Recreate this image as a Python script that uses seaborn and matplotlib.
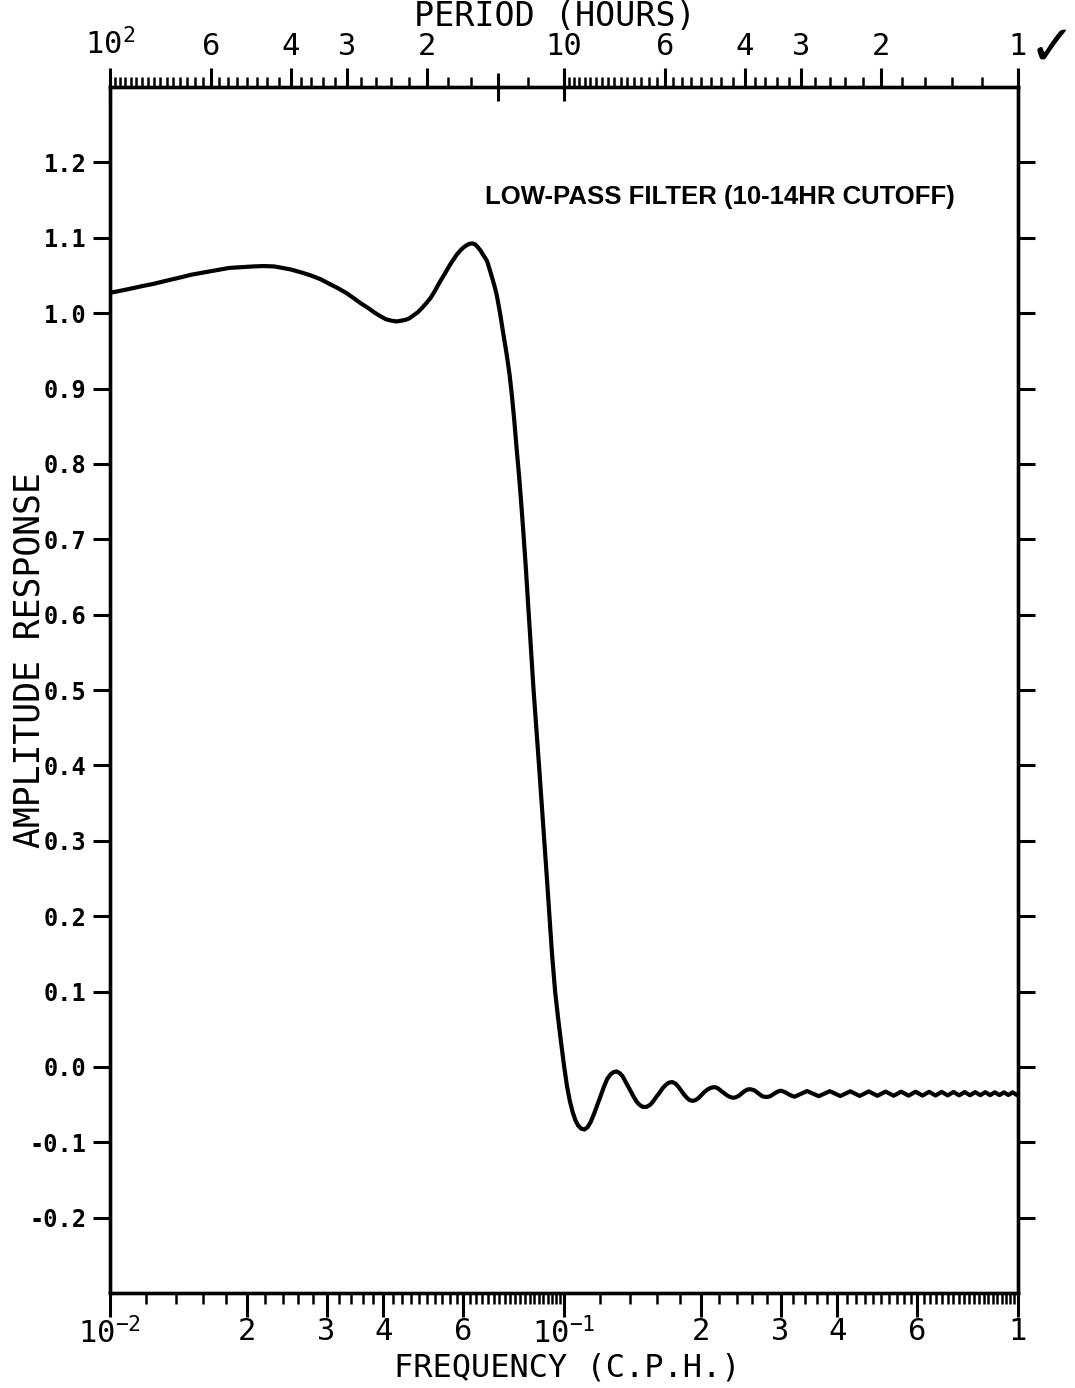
import matplotlib
matplotlib.use("Agg")
import matplotlib.pyplot as plt
import numpy as np
import pandas as pd
import seaborn as sns
from matplotlib.ticker import FixedLocator, NullFormatter

# Amplitude response of the low-pass filter, frequency in cycles per hour.
# Pass band (0.01 - 0.073 c.p.h.)
freq_pass = [
    0.0100, 0.0106, 0.0112, 0.0118, 0.0125, 0.0133, 0.0142, 0.0151, 0.0161, 0.0172,
    0.0183, 0.0195, 0.0207, 0.0218, 0.0230, 0.0240, 0.0250, 0.0264, 0.0277, 0.0291,
    0.0304, 0.0318, 0.0331, 0.0344, 0.0357, 0.0370, 0.0382, 0.0394, 0.0405, 0.0417,
    0.0428, 0.0438, 0.0447, 0.0456, 0.0466, 0.0476, 0.0487, 0.0497, 0.0508, 0.0519,
    0.0530, 0.0541, 0.0552, 0.0562, 0.0572, 0.0581, 0.0591, 0.0600, 0.0610, 0.0619,
    0.0629, 0.0638, 0.0647, 0.0655, 0.0664, 0.0671, 0.0677, 0.0686, 0.0695, 0.0703,
    0.0711, 0.0723,
]
amp_pass = [
    1.027, 1.030, 1.033, 1.036, 1.039, 1.043, 1.047, 1.051, 1.054, 1.057,
    1.060, 1.061, 1.062, 1.0625, 1.062, 1.060, 1.058, 1.054, 1.050, 1.045,
    1.039, 1.033, 1.027, 1.020, 1.013, 1.007, 1.001, 0.996, 0.992, 0.990,
    0.989, 0.990, 0.991, 0.993, 0.997, 1.001, 1.007, 1.013, 1.020, 1.029,
    1.039, 1.048, 1.057, 1.065, 1.072, 1.078, 1.083, 1.087, 1.090, 1.092,
    1.0925, 1.091, 1.087, 1.083, 1.077, 1.073, 1.069, 1.058, 1.046, 1.036,
    1.024, 1.000,
]
# Transition band (0.073 - 0.11 c.p.h.)
freq_trans = [
    0.0734, 0.0747, 0.0759, 0.0768, 0.0777, 0.0786, 0.0796, 0.0804, 0.0813, 0.0823,
    0.0834, 0.0845, 0.0857, 0.0869, 0.0881, 0.0893, 0.0905, 0.0917, 0.0929, 0.0941,
    0.0956, 0.0970, 0.0985, 0.1000, 0.1015, 0.1030, 0.1045, 0.1060, 0.1075, 0.1092,
]
amp_trans = [
    0.975, 0.947, 0.918, 0.890, 0.858, 0.822, 0.785, 0.752, 0.713, 0.667,
    0.612, 0.556, 0.500, 0.450, 0.400, 0.350, 0.300, 0.250, 0.200, 0.150,
    0.100, 0.066, 0.033, 0.002, -0.025, -0.045, -0.060, -0.071, -0.078, -0.082,
]
# Stop band ripple (0.11 - 1 c.p.h.)
freq_stop = [
    0.1109, 0.1127, 0.1145, 0.1165, 0.1185, 0.1205, 0.1225, 0.1245, 0.1265, 0.1285,
    0.1305, 0.1325, 0.1345, 0.1365, 0.1385, 0.1405, 0.1425, 0.1445, 0.1465, 0.1490,
    0.1520, 0.1550, 0.1575, 0.1600, 0.1625, 0.1650, 0.1675, 0.1700, 0.1730, 0.1760,
    0.1790, 0.1815, 0.1840, 0.1865, 0.1890, 0.1920, 0.1950, 0.1980, 0.2010, 0.2040,
    0.2070, 0.2100, 0.2130, 0.2160, 0.2190, 0.2220, 0.2255, 0.2290, 0.2325, 0.2360,
    0.2395, 0.2430, 0.2465, 0.2500, 0.2535, 0.2570, 0.2625, 0.2680, 0.2735, 0.2790,
    0.2843, 0.2895, 0.2948, 0.3000, 0.3055, 0.3110, 0.3165, 0.3220, 0.3325, 0.3430,
    0.3535, 0.3640, 0.3745, 0.3850, 0.3955, 0.4060, 0.4165, 0.4270, 0.4375, 0.4480,
    0.4585, 0.4690, 0.4795, 0.4900, 0.5005, 0.5110, 0.5215, 0.5320, 0.553, 0.574,
    0.595, 0.616, 0.637, 0.658, 0.679, 0.700, 0.721, 0.742, 0.763, 0.784,
    0.805, 0.826, 0.847, 0.868, 0.889, 0.910, 0.931, 0.952, 0.973, 0.994,
    1.000,
]
amp_stop = [
    -0.083, -0.080, -0.073, -0.062, -0.050, -0.038, -0.026, -0.016, -0.010, -0.007,
    -0.006, -0.008, -0.012, -0.019, -0.026, -0.033, -0.040, -0.046, -0.050, -0.053,
    -0.053, -0.050, -0.045, -0.039, -0.034, -0.028, -0.024, -0.021, -0.020, -0.022,
    -0.027, -0.032, -0.037, -0.041, -0.044, -0.045, -0.044, -0.041, -0.037, -0.033,
    -0.030, -0.028, -0.027, -0.027, -0.029, -0.032, -0.035, -0.038, -0.040, -0.041,
    -0.040, -0.038, -0.035, -0.032, -0.030, -0.0295, -0.031, -0.035, -0.039, -0.040,
    -0.039, -0.036, -0.033, -0.0315, -0.033, -0.0355, -0.038, -0.0395, -0.0357, -0.032,
    -0.0354, -0.0388, -0.0355, -0.0322, -0.0354, -0.0386, -0.0355, -0.0323, -0.0354, -0.0385,
    -0.0355, -0.0325, -0.0354, -0.0383, -0.0355, -0.0327, -0.0355, -0.0382, -0.0328, -0.0381,
    -0.0329, -0.0380, -0.0330, -0.0379, -0.0331, -0.0378, -0.0332, -0.0377, -0.0333, -0.0376,
    -0.0334, -0.0375, -0.0335, -0.0374, -0.0336, -0.0374, -0.0337, -0.0373, -0.0337, -0.0372,
    -0.0370,
]

# Bottom (frequency) axis ticks
freq_ticks = [0.01, 0.02, 0.03, 0.04, 0.06, 0.1, 0.2, 0.3, 0.4, 0.6, 1.0]
freq_tick_labels = [r"$\mathregular{10^{-2}}$", "2", "3", "4", "6",
                    r"$\mathregular{10^{-1}}$", "2", "3", "4", "6", "1"]
freq_minor = ([0.01 + 0.002 * k for k in range(1, 45)]
              + [0.1 + 0.02 * k for k in range(1, 45)])

# Top (period) axis ticks, in hours
period_ticks = [100, 60, 40, 30, 20, 10, 6, 4, 3, 2, 1]
period_tick_labels = [r"$\mathregular{10^{2}}$", "6", "4", "3", "2",
                      "10", "6", "4", "3", "2", "1"]
period_minor = ([97.5, 95, 92.5, 90, 87.5, 85, 82.5, 80, 77.5, 75, 72.5, 70, 67.5, 65, 62.5,
                 57.5, 55, 52.5, 50, 47.5, 45, 42.5,
                 38, 36, 34, 32, 28, 26, 24, 22, 18, 16, 14, 12]
                + [9.75, 9.5, 9.25, 9, 8.75, 8.5, 8.25, 8, 7.75, 7.5, 7.25, 7, 6.75, 6.5, 6.25,
                   5.75, 5.5, 5.25, 5, 4.75, 4.5, 4.25,
                   3.8, 3.6, 3.4, 3.2, 2.8, 2.6, 2.4, 2.2, 1.8, 1.6, 1.4, 1.2])
period_long = [100, 14, 10, 1]

# Amplitude axis ticks
amp_ticks = [-0.2, -0.1, 0.0, 0.1, 0.2, 0.3, 0.4, 0.5, 0.6, 0.7, 0.8, 0.9, 1.0, 1.1, 1.2]
amp_tick_labels = ["-0.2", "-0.1", "0.0", "0.1", "0.2", "0.3", "0.4", "0.5",
                   "0.6", "0.7", "0.8", "0.9", "1.0", "1.1", "1.2"]

sns.set_style("ticks")
plt.rcParams["font.family"] = ["DejaVu Sans Mono", "DejaVu Sans"]
plt.rcParams["axes.edgecolor"] = "black"
plt.rcParams["xtick.color"] = "black"
plt.rcParams["ytick.color"] = "black"
plt.rcParams["text.color"] = "black"
plt.rcParams["axes.labelcolor"] = "black"

fig = plt.figure(figsize=(10.75, 13.88), dpi=100)
ax = fig.add_axes([0.1023, 0.0684, 0.8447, 0.8689])

df = pd.DataFrame({
    "freq": freq_pass + freq_trans + freq_stop,
    "amp": amp_pass + amp_trans + amp_stop,
})
sns.lineplot(data=df, x="freq", y="amp", ax=ax, color="black", linewidth=3.0,
             estimator=None, sort=False)

ax.set_xscale("log")
ax.set_xlim(0.01, 1.0)
ax.set_ylim(-0.3, 1.3)
ax.set_xlabel("")
ax.set_ylabel("")
for s in ax.spines.values():
    s.set_linewidth(2.4)
    s.set_color("black")

ax.xaxis.set_major_locator(FixedLocator(freq_ticks))
ax.set_xticklabels(freq_tick_labels)
ax.xaxis.set_minor_locator(FixedLocator(freq_minor))
ax.xaxis.set_minor_formatter(NullFormatter())
ax.tick_params(axis="x", which="major", direction="out", length=17, width=2.2,
               labelsize=22, pad=0)
ax.tick_params(axis="x", which="minor", direction="out", length=8, width=1.8)

ax.set_yticks(amp_ticks)
ax.set_yticklabels(amp_tick_labels, fontweight="bold", fontsize=17)
ax.yaxis.set_minor_locator(FixedLocator([]))
ax.tick_params(axis="y", which="major", direction="out", length=12, width=2.2,
               left=True, right=True, labelright=False, pad=5)

# Period axis along the top
ax_top = ax.twiny()
ax_top.set_xscale("log")
ax_top.set_xlim(0.01, 1.0)
ax_top.xaxis.set_major_locator(FixedLocator([1.0 / p for p in period_ticks]))
ax_top.set_xticklabels(period_tick_labels)
ax_top.xaxis.set_minor_locator(FixedLocator([1.0 / p for p in period_minor]))
ax_top.xaxis.set_minor_formatter(NullFormatter())
ax_top.tick_params(axis="x", which="major", direction="out", length=14, width=2.2,
                   labelsize=22, pad=5)
ax_top.tick_params(axis="x", which="minor", direction="out", length=7, width=1.8)
for s in ax_top.spines.values():
    s.set_linewidth(2.4)

# Long marks crossing the top axis
ax_mark = ax.twiny()
ax_mark.set_xscale("log")
ax_mark.set_xlim(0.01, 1.0)
ax_mark.xaxis.set_major_locator(FixedLocator([1.0 / p for p in period_long]))
ax_mark.xaxis.set_minor_locator(FixedLocator([]))
ax_mark.set_xticklabels([])
ax_mark.tick_params(axis="x", which="major", direction="inout", length=20, width=2.2)
for s in ax_mark.spines.values():
    s.set_visible(False)

ax.text(0.413, 0.909, "LOW-PASS FILTER (10-14HR CUTOFF)", transform=ax.transAxes,
        family=["Liberation Sans", "DejaVu Sans"], fontweight="bold", fontsize=18.5,
        ha="left", va="center")

fig.text(567 / 1075, 1 - 1368 / 1388, "FREQUENCY (C.P.H.)", fontsize=23,
         ha="center", va="center")
fig.text(555 / 1075, 1 - 17 / 1388, "PERIOD (HOURS)", fontsize=24,
         ha="center", va="center")
fig.text(30 / 1075, 1 - 660 / 1388, "AMPLITUDE RESPONSE", fontsize=25,
         rotation=90, ha="center", va="center")
fig.text(1052 / 1075, 1 - 50 / 1388, "\u2713", fontsize=40,
         family=["DejaVu Sans"], ha="center", va="center")

fig.savefig("out.png", dpi=100, facecolor="white")
